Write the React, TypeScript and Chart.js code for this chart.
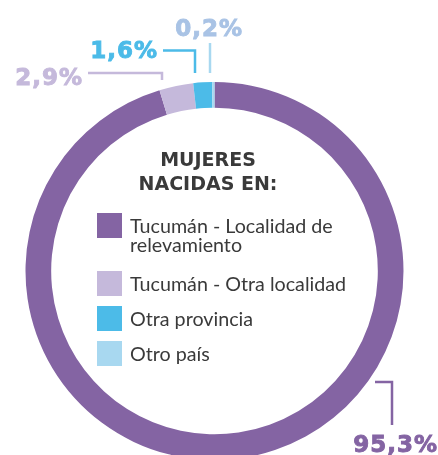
import React, { useEffect, useRef } from "react";
import { Chart, registerables } from "chart.js";

Chart.register(...registerables);

const categories = [
  "Tucumán - Localidad de relevamiento",
  "Tucumán - Otra localidad",
  "Otra provincia",
  "Otro país",
];
const values = [95.3, 2.9, 1.6, 0.2];
const colors = ["#8464a3", "#c5b9db", "#4cbbe8", "#a8d8f0"];
const labelColors = ["#8464a3", "#c5b9db", "#4cbbe8", "#a9c3e5"];
const legendTitle = ["MUJERES", "NACIDAS EN:"];

const fmt = (v: number) => v.toFixed(1).replace(".", ",") + "%";

// label layout: text anchor + leader polyline
const labelLayout = [
  { x: 437, y: 452, align: "right", line: [[375, 382], [392, 382], [392, 425]] },
  { x: 82, y: 85, align: "right", line: [[88, 73], [162, 73], [162, 80]] },
  { x: 157, y: 58, align: "right", line: [[163, 50.5], [195, 50.5], [195, 73]] },
  { x: 242, y: 36, align: "right", line: [[210, 43], [210, 73]] },
];

const overlayPlugin = {
  id: "overlay",
  afterDraw(chart: any) {
    const ctx = chart.ctx as CanvasRenderingContext2D;
    const ds = chart.data.datasets[0];
    const labels = chart.data.labels as string[];
    ctx.save();
    // percent labels + leader lines
    (ds.data as number[]).forEach((v, i) => {
      const L = labelLayout[i];
      ctx.strokeStyle = ds.backgroundColor[i];
      ctx.lineWidth = 2.5;
      ctx.beginPath();
      L.line.forEach((p, j) => (j === 0 ? ctx.moveTo(p[0], p[1]) : ctx.lineTo(p[0], p[1])));
      ctx.stroke();
      ctx.fillStyle = labelColors[i];
      ctx.strokeStyle = labelColors[i];
      ctx.lineWidth = 0.9;
      ctx.font = "bold 23px 'DejaVu Sans'";
      (ctx as any).letterSpacing = "1px";
      ctx.textAlign = L.align as CanvasTextAlign;
      ctx.textBaseline = "alphabetic";
      ctx.fillText(fmt(v), L.x + 1, L.y);
      ctx.strokeText(fmt(v), L.x + 1, L.y);
    });
    (ctx as any).letterSpacing = "0px";
    // legend title
    ctx.fillStyle = "#3a3a3a";
    ctx.font = "bold 19px 'DejaVu Sans'";
    ctx.textAlign = "center";
    ctx.fillText(legendTitle[0], 208, 166);
    ctx.fillText(legendTitle[1], 208, 190);
    // legend items
    ctx.font = "19.7px Lato";
    ctx.textAlign = "left";
    let y = 213;
    labels.forEach((lab, i) => {
      ctx.fillStyle = ds.backgroundColor[i];
      ctx.fillRect(97, y, 25, 25);
      const words = lab.split(" ");
      const lines: string[] = [];
      let cur = "";
      words.forEach((w) => {
        const t = cur ? cur + " " + w : w;
        if (ctx.measureText(t).width > 235 && cur) {
          lines.push(cur);
          cur = w;
        } else cur = t;
      });
      lines.push(cur);
      ctx.fillStyle = "#3a3a3a";
      lines.forEach((ln, k) => ctx.fillText(ln, 130, y + 20 + k * 19));
      y += 35 + (lines.length - 1) * 23;
    });
    ctx.restore();
  },
};

export default function App() {
  const ref = useRef<HTMLCanvasElement>(null);
  useEffect(() => {
    document.body.style.margin = "0";
    document.body.style.overflow = "hidden";
    const chart = new Chart(ref.current!, {
      type: "doughnut",
      data: {
        labels: categories,
        datasets: [
          {
            data: values,
            backgroundColor: colors,
            borderWidth: 0,
            radius: 189,
            cutout: 159,
          } as any,
        ],
      },
      options: {
        animation: false,
        responsive: false,
        layout: { padding: { left: 0, right: 9, top: 87, bottom: 0 } },
        plugins: { legend: { display: false }, tooltip: { enabled: false } },
      },
      plugins: [overlayPlugin],
    });
    return () => chart.destroy();
  }, []);
  return (
    <div style={{ position: "fixed", left: 0, top: 0, width: 438, height: 455, background: "#fff" }}>
      <canvas ref={ref} width={438} height={455} style={{ width: 438, height: 455 }} />
    </div>
  );
}
